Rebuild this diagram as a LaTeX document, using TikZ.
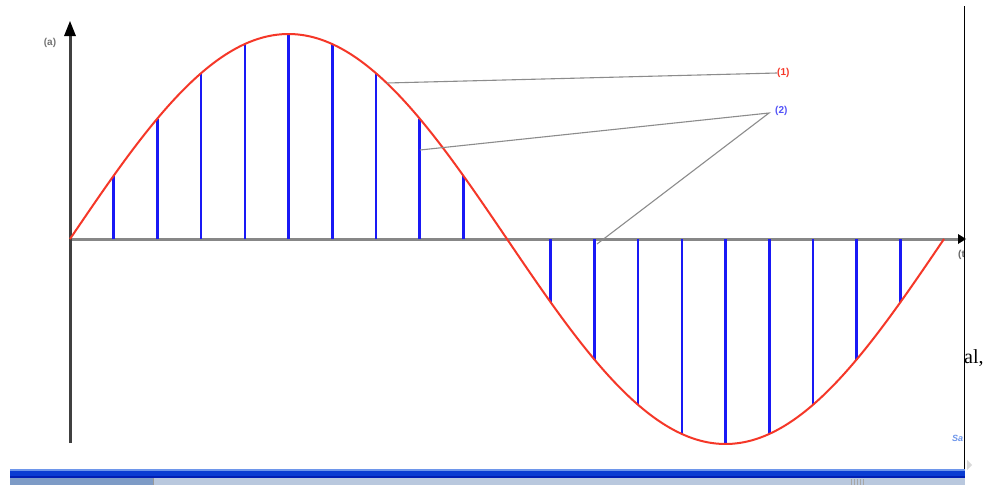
\documentclass[tikz,border=0pt]{standalone}
\usepackage{fontspec}
\setsansfont{Liberation Sans}
\setmainfont{Liberation Serif}
\usetikzlibrary{arrows.meta}
\definecolor{sinered}{RGB}{245,55,40}
\definecolor{sampleblue}{RGB}{25,25,245}
\definecolor{axisgray}{RGB}{135,135,135}
\definecolor{leadergray}{RGB}{140,140,140}
\definecolor{barlight}{RGB}{110,150,235}
\definecolor{bardark}{RGB}{0,30,180}
\definecolor{barmid}{RGB}{10,60,210}
\definecolor{greyleft}{RGB}{125,155,198}
\definecolor{greyright}{RGB}{185,200,222}
\tikzset{
  curve/.style={draw=sinered, line width=2pt},
  sample/.style={draw=sampleblue, line width=2.6pt},
  leader/.style={draw=leadergray, line width=1.1pt},
  smalllabel/.style={font=\sffamily\bfseries\fontsize{10}{11}\selectfont, inner sep=0pt},
}
\begin{document}
\begin{tikzpicture}[x=1pt,y=-1pt]
\useasboundingbox (0,0) rectangle (988,485);
\fill[white] (0,0) rectangle (988,485);
% axes
\draw[axisgray, line width=3pt] (70,239) -- (958,239);
\fill[black] (958,234) -- (966,239) -- (958,244) -- cycle;
\draw[black!75, line width=3pt] (70,443) -- (70,34);
\fill[black] (64,36) -- (70,21) -- (76,36) -- cycle;
\node[smalllabel, text=black!55] (alabel) at (50,43) {(a)};
% samples
\foreach \k in {1,...,9,11,12,...,19}{
  \draw[sample] ({70+43.7*\k},239) -- ({70+43.7*\k},{239-205*sin(18*\k)});
}
% sine
\draw[curve] plot[domain=0:360, samples=220, smooth] ({70+2.427778*\x},{239-205*sin(\x)});
% leader points
\coordinate (c1) at (387,83);
\coordinate (c2) at (420,150);
\coordinate (c3) at (597,244);
\node[smalllabel, text=sinered, anchor=west] (l1) at (777,73) {(1)};
\node[smalllabel, text=sampleblue!75, anchor=west] (l2) at (775,111) {(2)};
\draw[leader] (c1) -- (l1.west);
\draw[leader] (c2) -- (769,113) -- (c3);
% partial texts
\begin{scope}
\clip (900,0) rectangle (964,485);
\node[smalllabel, text=black!60, anchor=west] (tlabel) at (958,255) {(t)};
\node[font=\sffamily\bfseries\itshape\fontsize{9}{10}\selectfont, text=barlight, anchor=west, inner sep=0pt] (sa) at (952,438) {Sa};
\end{scope}
\node[font=\rmfamily\fontsize{20}{22}\selectfont, anchor=west, inner sep=0pt] (al) at (964,358) {al,};
% right frame line
\draw[black, line width=1.8pt] (964.5,6) -- (964.5,471);
\fill[black!15] (967,460) -- (972,465) -- (967,470) -- cycle;
% bottom bar
\fill[barmid] (10,469) rectangle (965,478);
\fill[barlight] (10,469) rectangle (965,471);
\fill[bardark] (10,476) rectangle (965,478);
\fill[greyleft] (10,478) rectangle (153,485);
\fill[greyright] (153,478) rectangle (965,485);
\draw[black!40, line width=0.8pt] (153.5,478) -- (153.5,485);
\foreach \gx in {851,854,857,860,863}{
  \draw[black!35, line width=0.6pt] (\gx,479) -- (\gx,485);
}
\end{tikzpicture}
\end{document}
